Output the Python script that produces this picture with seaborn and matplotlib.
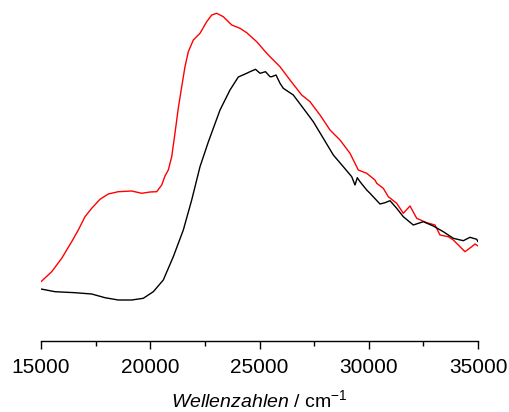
import matplotlib
matplotlib.use("Agg")
import matplotlib.pyplot as plt
import seaborn as sns
import pandas as pd
from matplotlib.ticker import MultipleLocator

# Red spectrum (wavenumber in cm^-1, relative absorbance, arbitrary units)
red_wn = [15000, 15490, 15947, 16405, 16707, 17014, 17320, 17700, 18080, 18538,
          19151, 19609, 19989, 20295, 20524, 20675, 20826, 20982, 21133, 21284,
          21440, 21590, 21742, 21971, 22277, 22584, 22813, 23042, 23344, 23728,
          24108, 24414, 24872, 25330, 25481, 25938, 26396, 26931, 27311, 27769,
          28227, 28684, 29142, 29522, 29906, 30286, 30364, 30666, 30895, 31279,
          31581, 31888, 32195, 32652, 33032, 33261, 33641, 33870, 34176, 34405,
          34712, 34863, 35000]
red_abs = [59.3, 69.3, 82.7, 99.3, 111, 124.3, 132.7, 141.7, 147, 149.3,
           150, 147.7, 149, 149.3, 156, 165, 171, 184.3, 208, 233,
           254.3, 274.3, 289.3, 301, 307.7, 319.3, 326, 327.7, 324.3, 316,
           312.7, 308.3, 299.3, 287.7, 284.3, 274.3, 261, 246, 239.3, 226,
           211, 201, 187.7, 171, 167.7, 161, 157.7, 152.7, 144.3, 137.7,
           127.7, 135, 122.7, 118.3, 116, 106, 104.3, 101, 94.3, 89.3,
           94.3, 97, 95]

# Black spectrum
black_wn = [15000, 15641, 16556, 17320, 17929, 18538, 19151, 19682, 20140, 20597,
            21055, 21513, 21897, 22277, 22657, 23193, 23650, 24030, 24414, 24566,
            24818, 25023, 25275, 25481, 25559, 25756, 25939, 26089, 26547, 27005,
            27462, 27920, 28378, 28835, 29220, 29371, 29476, 29600, 29906, 30057,
            30515, 30744, 30973, 31279, 31581, 32039, 32497, 32955, 33412, 33870,
            34328, 34634, 34941, 35000]
black_abs = [52, 49.3, 48.3, 47, 43.3, 41, 41, 42.7, 49.3, 61,
             84.3, 111, 141, 174.3, 199, 231, 251, 264, 267.7, 269.3,
             271.7, 267.7, 269.3, 264.3, 264.3, 266, 257.7, 252.7, 246, 232.7,
             219.3, 202.7, 186, 174.3, 164.3, 156, 163.3, 159.3, 151, 147.7,
             137, 138.3, 140.3, 132.7, 124.3, 116, 119.3, 115, 109.3, 102.7,
             100.3, 103.7, 101.7, 99.3]

x_ticks = [15000, 20000, 25000, 30000, 35000]

df = pd.concat([
    pd.DataFrame({"wn": red_wn, "A": red_abs, "s": "red"}),
    pd.DataFrame({"wn": black_wn, "A": black_abs, "s": "black"}),
])

sns.set_style("white")
plt.rcParams["font.family"] = ["Liberation Sans", "DejaVu Sans"]
plt.rcParams["mathtext.fontset"] = "custom"
plt.rcParams["mathtext.rm"] = "Liberation Sans"
plt.rcParams["mathtext.it"] = "Liberation Sans:italic"
plt.rcParams["text.color"] = "black"
plt.rcParams["axes.labelcolor"] = "black"
plt.rcParams["xtick.color"] = "black"

fig = plt.figure(figsize=(5.09, 4.12), dpi=100)
ax = fig.add_axes([41 / 509, (412 - 341) / 412, (478 - 41) / 509, (341 - 5) / 412])

sns.lineplot(data=df, x="wn", y="A", hue="s", palette={"red": "#ff0000", "black": "#000000"},
             hue_order=["red", "black"], linewidth=1.0, legend=False, ax=ax, sort=False)

ax.set_xlim(15000, 35000)
ax.set_ylim(0, 336)
ax.set_xticks(x_ticks)
ax.set_xticklabels([str(t) for t in x_ticks])
ax.xaxis.set_minor_locator(MultipleLocator(2500))
ax.set_yticks([])
ax.set_ylabel("")
for s in ["left", "top", "right"]:
    ax.spines[s].set_visible(False)
ax.spines["bottom"].set_linewidth(1.0)
ax.spines["bottom"].set_color("black")
ax.tick_params(axis="x", which="major", direction="out", length=6, width=1.0,
               labelsize=15, pad=6, bottom=True, color="black", labelcolor="black")
ax.tick_params(axis="x", which="minor", direction="out", length=3.5, width=1.0,
               bottom=True, color="black")
ax.set_xlabel(r"$\mathit{Wellenzahlen}$ / cm$^{-1}$", fontsize=14, labelpad=9,
              color="black")

fig.savefig("out.png", dpi=100)
